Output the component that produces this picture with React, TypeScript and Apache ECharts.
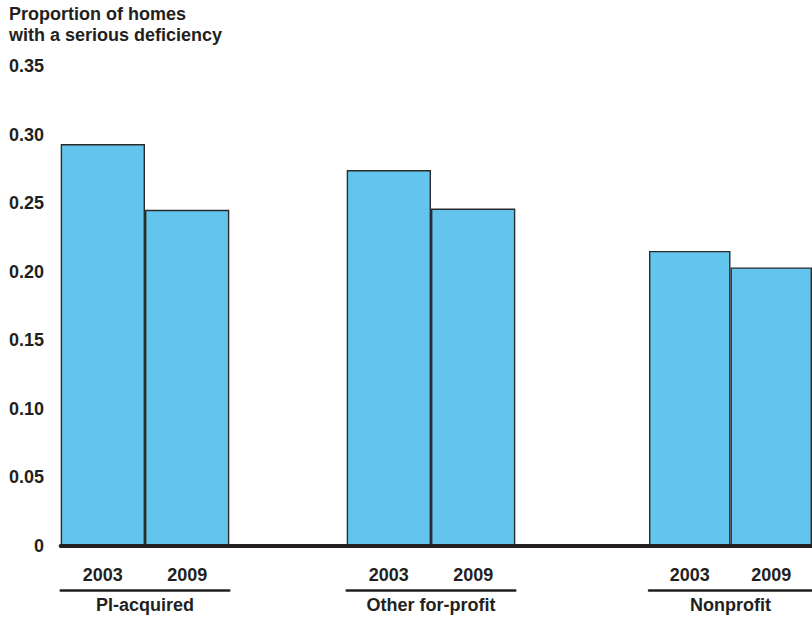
import React, { useEffect, useRef } from "react";
import * as echarts from "echarts";

const groups = ["PI-acquired", "Other for-profit", "Nonprofit"];
const years = ["2003", "2009"];
const values2003 = [0.293, 0.274, 0.215];
const values2009 = [0.245, 0.246, 0.203];
const yTickValues = [0, 0.05, 0.1, 0.15, 0.2, 0.25, 0.3, 0.35];

const FONT = "'Liberation Sans', Arial, Helvetica, sans-serif";
const TEXT = "#231f20";
const BAR = "#63c5ee";

export default function App() {
  const ref = useRef<HTMLDivElement>(null);
  useEffect(() => {
    if (!ref.current) return;
    const chart = echarts.init(ref.current, undefined, { renderer: "svg" });
    const top = 66;
    const bottom = 73;
    const barW = 84.3;
    const groupLefts = [60.7, 346.7, 649];
    const yMin = yTickValues[0];
    const yMax = yTickValues[yTickValues.length - 1];
    const yInt = yTickValues[1] - yTickValues[0];

    const grids: any[] = [{ left: 60.7, right: 0, top, bottom }];
    const xAxes: any[] = [
      {
        type: "category",
        gridIndex: 0,
        data: [""],
        z: 10,
        axisLine: { show: true, lineStyle: { color: TEXT, width: 4 } },
        axisTick: { show: false },
        axisLabel: { show: false },
      },
    ];
    const yAxes: any[] = [
      {
        type: "value",
        gridIndex: 0,
        min: yMin,
        max: yMax,
        interval: yInt,
        axisLine: { show: false },
        axisTick: { show: false },
        splitLine: { show: false },
        axisLabel: {
          margin: 16.7,
          fontFamily: FONT,
          fontSize: 18,
          fontWeight: "bold",
          color: TEXT,
          formatter: (v: number) => (v === 0 ? "0" : v.toFixed(2)),
        },
      },
    ];
    const series: any[] = [];

    groups.forEach((g, i) => {
      const gi = i + 1;
      grids.push({ left: groupLefts[i], width: barW * 2, top, bottom });
      xAxes.push({
        type: "category",
        gridIndex: gi,
        data: years,
        axisLine: { show: false },
        axisTick: { show: false },
        axisLabel: {
          margin: 20,
          fontFamily: FONT,
          fontSize: 18,
          fontWeight: "bold",
          color: TEXT,
        },
      });
      xAxes.push({
        type: "category",
        gridIndex: gi,
        data: years,
        position: "bottom",
        offset: 44.5,
        axisLine: { show: true, lineStyle: { color: TEXT, width: 2.5 } },
        axisTick: { show: false },
        axisLabel: { show: false },
        name: g,
        nameLocation: "middle",
        nameGap: 6,
        nameTextStyle: {
          fontFamily: FONT,
          fontSize: 18,
          fontWeight: "bold",
          color: TEXT,
          verticalAlign: "top",
        },
      });
      yAxes.push({
        type: "value",
        gridIndex: gi,
        min: yMin,
        max: yMax,
        interval: yInt,
        show: false,
      });
      series.push({
        type: "bar",
        xAxisIndex: xAxes.length - 2,
        yAxisIndex: gi,
        barCategoryGap: 0,
        barWidth: "100%",
        itemStyle: { color: BAR, borderColor: "#2b2b2b", borderWidth: 1.4 },
        data: [values2003[i], values2009[i]],
      });
    });

    chart.setOption({
      animation: false,
      backgroundColor: "#ffffff",
      title: {
        text: "Proportion of homes\nwith a serious deficiency",
        left: 9,
        top: 3,
        padding: 0,
        textStyle: {
          fontFamily: FONT,
          fontSize: 18,
          lineHeight: 21,
          fontWeight: "bold",
          color: TEXT,
        },
      },
      grid: grids,
      xAxis: xAxes,
      yAxis: yAxes,
      series,
    });
    return () => chart.dispose();
  }, []);
  return (
    <div
      ref={ref}
      style={{ position: "fixed", left: 0, top: 0, width: 812, height: 619 }}
    />
  );
}
